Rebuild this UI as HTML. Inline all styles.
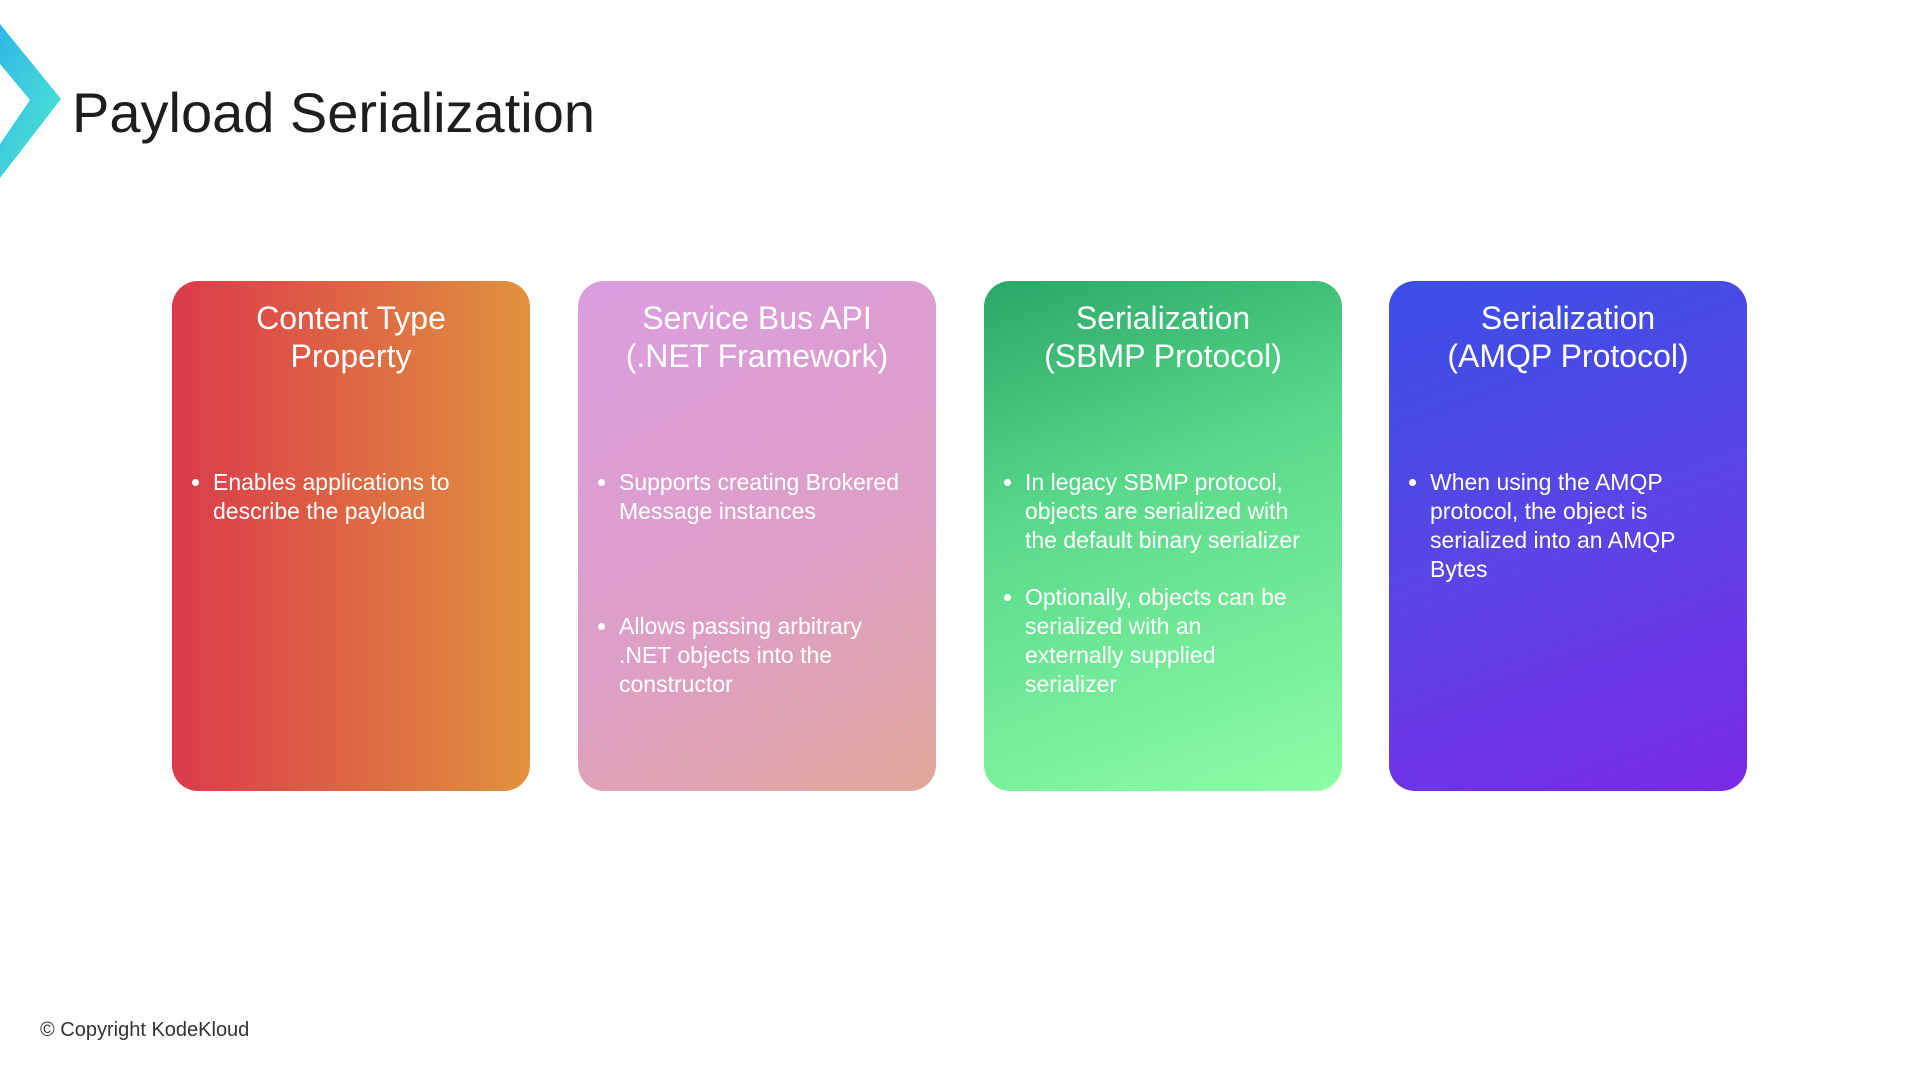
<!DOCTYPE html>
<html><head><meta charset="utf-8"><style>
html,body{margin:0;padding:0;width:1920px;height:1080px;background:#fff;overflow:hidden;font-family:"Liberation Sans",sans-serif;}
.title{position:absolute;left:72px;top:80px;font-size:56px;color:#1e1e1e;}
.card{position:absolute;top:281px;width:358px;height:510px;border-radius:26px;color:#fff;}
.card h2{margin:0;position:absolute;top:18px;left:0;right:0;text-align:center;font-weight:normal;font-size:32px;line-height:38px;}
.card ul{position:absolute;left:20px;right:0;margin:0;padding:0 0 0 21px;font-size:23px;line-height:29px;white-space:nowrap;}
.card li{margin:0;}
.copy{position:absolute;left:40px;top:1019px;font-size:20px;color:#333;}
</style></head><body>
<svg style="position:absolute;left:0;top:24px" width="64" height="156"><defs><linearGradient id="g" x1="0" y1="0" x2="1" y2="1"><stop offset="0" stop-color="#2fb8e6"/><stop offset="1" stop-color="#4fe8d0"/></linearGradient></defs><polygon points="0,0 61,75 0,154 0,120 30,76 0,40" fill="url(#g)"/></svg>
<div class="title">Payload Serialization</div>
<div class="card" style="left:172px;background:linear-gradient(90deg,#db3a4a,#e0923e);">
<h2>Content Type<br>Property</h2>
<ul style="top:187px"><li>Enables applications to<br>describe the payload</li></ul></div>
<div class="card" style="left:578px;background:linear-gradient(150deg,#da9ee0,#dd9fc4 60%,#e0a89a);">
<h2>Service Bus API<br>(.NET Framework)</h2>
<ul style="top:187px"><li>Supports creating Brokered<br>Message instances</li></ul>
<ul style="top:331px"><li>Allows passing arbitrary<br>.NET objects into the<br>constructor</li></ul></div>
<div class="card" style="left:984px;background:linear-gradient(160deg,#2aa768,#5ad98a 40%,#8dfda6);">
<h2>Serialization<br>(SBMP Protocol)</h2>
<ul style="top:187px"><li>In legacy SBMP protocol,<br>objects are serialized with<br>the default binary serializer</li></ul>
<ul style="top:302px"><li>Optionally, objects can be<br>serialized with an<br>externally supplied<br>serializer</li></ul></div>
<div class="card" style="left:1389px;background:linear-gradient(160deg,#3a4fe6,#5a45e6 50%,#7a2ae6);">
<h2>Serialization<br>(AMQP Protocol)</h2>
<ul style="top:187px"><li>When using the AMQP<br>protocol, the object is<br>serialized into an AMQP<br>Bytes</li></ul></div>
<div class="copy">© Copyright KodeKloud</div>
</body></html>
